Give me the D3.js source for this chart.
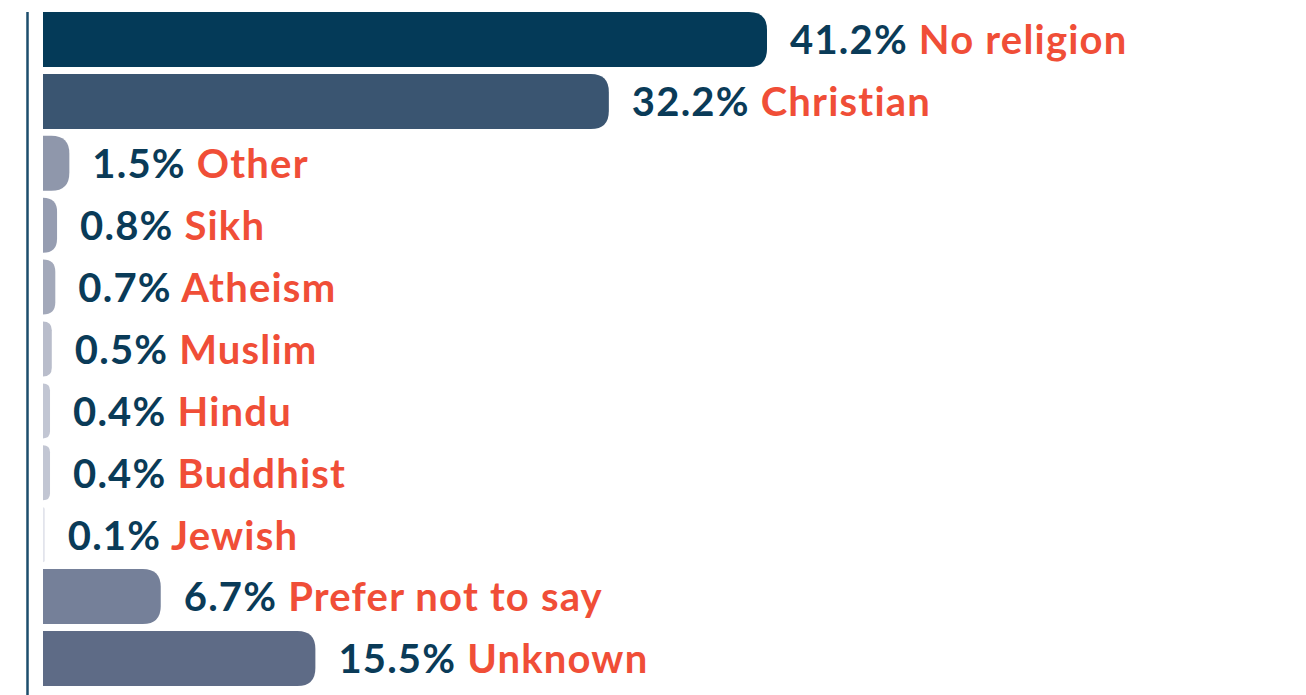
<!DOCTYPE html>
<html>
<head>
<meta charset="utf-8">
<script src="https://cdn.jsdelivr.net/npm/d3@7"></script>
<style>
  html, body { margin: 0; padding: 0; background: #ffffff; }
  svg { display: block; }
  text { font-family: Lato, "Open Sans", sans-serif; font-weight: 700; }
</style>
</head>
<body>
<svg id="chart" width="1306" height="695"></svg>
<script>
// Religion breakdown (percent of respondents)
const categories = ["No religion", "Christian", "Other", "Sikh", "Atheism", "Muslim",
                    "Hindu", "Buddhist", "Jewish", "Prefer not to say", "Unknown"];
const values = [41.2, 32.2, 1.5, 0.8, 0.7, 0.5, 0.4, 0.4, 0.1, 6.7, 15.5];
const barColors = ["#043a58", "#3a5571", "#8f97ab", "#969db1", "#a3a9ba", "#b9bdcb",
                   "#c2c6d3", "#c2c6d3", "#e2e4ec", "#758099", "#5e6b86"];

const svg = d3.select("#chart");
const marginLeft = 43, marginTop = 12, rowStep = 61.9, barH = 55;

const x = d3.scaleLinear().domain([0, 41.2]).range([marginLeft, 767]);
const y = d3.scaleBand()
  .domain(categories)
  .range([marginTop, marginTop + rowStep * (categories.length - 1) + barH])
  .paddingInner((rowStep - barH) / rowStep)
  .paddingOuter(0)
  .align(0);

// bar with square left end and rounded right end
function barPath(x0, y0, w, h) {
  const r = Math.min(18, w, h / 2);
  return `M${x0},${y0}H${x0 + w - r}` +
         `Q${x0 + w},${y0} ${x0 + w},${y0 + r}` +
         `V${y0 + h - r}` +
         `Q${x0 + w},${y0 + h} ${x0 + w - r},${y0 + h}` +
         `H${x0}Z`;
}

svg.append("g").selectAll("path")
  .data(categories)
  .join("path")
  .attr("d", (d, i) => barPath(x(0), y(d), x(values[i]) - x(0), y.bandwidth()))
  .attr("fill", (d, i) => barColors[i]);

// vertical axis line
svg.append("line")
  .attr("x1", 27.5).attr("x2", 27.5)
  .attr("y1", marginTop).attr("y2", 695)
  .attr("stroke", "#1d4e6c").attr("stroke-width", 2.5);

// value + category labels
const labels = svg.append("g").selectAll("text")
  .data(categories)
  .join("text")
  .attr("x", (d, i) => x(values[i]) + 23)
  .attr("y", d => y(d) + y.bandwidth() / 2)
  .attr("dy", "0.37em")
  .attr("font-size", 40)
  .attr("letter-spacing", 1.2);

labels.append("tspan")
  .attr("fill", "#0a3b58")
  .text((d, i) => values[i].toFixed(1) + "%");
labels.append("tspan")
  .attr("fill", "#f04e37")
  .text(d => " " + d);
</script>
</body>
</html>
